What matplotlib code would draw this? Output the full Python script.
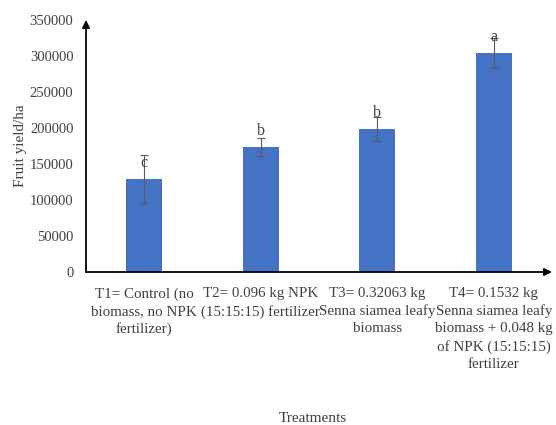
import matplotlib
matplotlib.use("Agg")
import matplotlib.pyplot as plt

categories = ["T1= Control (no\nbiomass, no NPK\nfertilizer)",
              "T2= 0.096 kg NPK\n(15:15:15) fertilizer",
              "T3= 0.32063 kg\nSenna siamea leafy\nbiomass",
              "T4= 0.1532 kg\nSenna siamea leafy\nbiomass + 0.048 kg\nof NPK (15:15:15)\nfertilizer"]
yield_values = [129000, 173500, 198500, 304000]
errors = [33000, 12500, 17000, 21000]
letters = ["c", "b", "b", "a"]
yticks = [0, 50000, 100000, 150000, 200000, 250000, 300000, 350000]

plt.rcParams['font.family'] = ['Liberation Serif', 'DejaVu Serif']
txt = '#404040'

fig = plt.figure(figsize=(5.56, 4.25), dpi=100)
ax = fig.add_axes([86/556, (425-272)/425, 466/556, 252/425])
x = list(range(len(categories)))
ax.bar(x, yield_values, width=0.31, color='#4472C4', zorder=2)
ax.errorbar(x, yield_values, yerr=errors, fmt='none', ecolor='#595959',
            elinewidth=0.8, capsize=3, capthick=0.8, zorder=3)
for xi, v, l in zip(x, yield_values, letters):
    ax.text(xi, v + 22000, l, ha='center', va='center', fontsize=11.5, color=txt, zorder=4)

ax.set_xlim(-0.5, 3.5)
ax.set_ylim(0, 350000)
ax.set_yticks(yticks)
ax.set_yticklabels([str(t) for t in yticks], fontsize=10.5, color=txt)
ax.set_xticks(x)
ax.set_xticklabels(categories, fontsize=10.8, color=txt, linespacing=1.4)
ax.tick_params(axis='both', length=0)
ax.tick_params(axis='x', pad=11)
ax.tick_params(axis='y', pad=9)
for s in ax.spines.values():
    s.set_visible(False)
ax.annotate('', xy=(0, 1.0), xytext=(0, 0), xycoords='axes fraction',
            arrowprops=dict(arrowstyle='-|>', color='black', lw=1.3, mutation_scale=11, shrinkA=0, shrinkB=0))
ax.annotate('', xy=(1.0, 0), xytext=(0, 0), xycoords='axes fraction',
            arrowprops=dict(arrowstyle='-|>', color='black', lw=1.3, mutation_scale=11, shrinkA=0, shrinkB=0))
ax.set_ylabel("Fruit yield/ha", fontsize=11, color=txt, labelpad=2)
fig.text(313/556, 1 - 418/425, "Treatments", ha='center', va='center', fontsize=11, color=txt)
fig.savefig("out.png", dpi=100)
